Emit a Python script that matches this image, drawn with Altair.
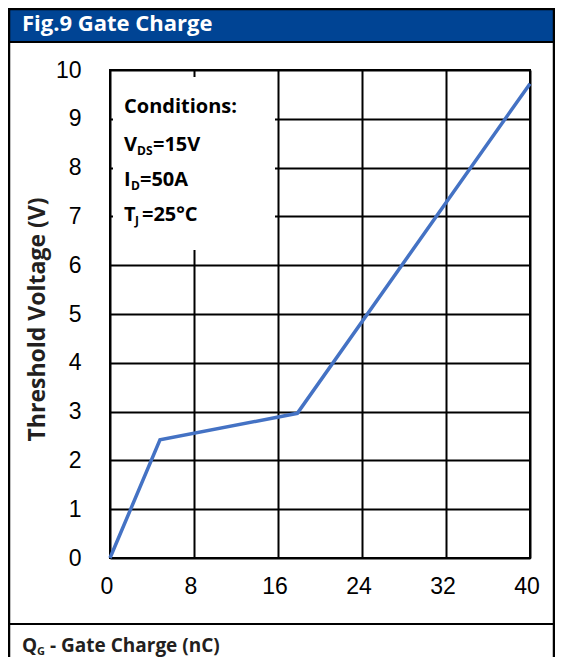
import altair as alt
import pandas as pd

# ---- data ----
qg = [0, 4.76, 17.84, 40]          # gate charge (nC)
vth = [0, 2.42, 2.965, 9.72]       # voltage (V)
x_ticks = [0, 8, 16, 24, 32, 40]
y_ticks = [0, 1, 2, 3, 4, 5, 6, 7, 8, 9, 10]

fig_title = "Fig.9 Gate Charge"
y_title = "Threshold Voltage (V)"
x_title_main = "Q"
x_title_sub = "G"
x_title_rest = "- Gate Charge (nC)"
cond_head = "Conditions:"
cond_lines = [("V", "DS", "=15V"), ("I", "D", "=50A"), ("T", "J", "=25°C")]

df = pd.DataFrame({"qg": qg, "vth": vth})
one = alt.Data(values=[{"k": 0}])

BLUE = "#004494"
DARK = "#231f20"
FONT = "Open Sans"


def txt(text, x, y, size, color="black", weight="bold"):
    return alt.Chart(one).mark_text(
        text=text, fontSize=size, font=FONT, fontWeight=weight, color=color,
        align="left", baseline="alphabetic"
    ).encode(x=alt.value(x), y=alt.value(y))


def rect(x, x2, y, y2, **kw):
    return alt.Chart(one).mark_rect(**kw).encode(
        x=alt.value(x), x2=alt.value(x2), y=alt.value(y), y2=alt.value(y2))


def hrule(x, x2, y, width=2):
    return alt.Chart(one).mark_rule(color="black", strokeWidth=width).encode(
        x=alt.value(x), x2=alt.value(x2), y=alt.value(y))


header = rect(-102, 445, -62, -28, color=BLUE)
header_line = hrule(-102, 445, -28, 2)
frame = rect(-101, 444, -61, 620, filled=False, stroke="black", strokeWidth=2.5)
divider = hrule(-102, 445, 554, 2)
white_box = rect(3, 165, 7, 180, color="white")

line = alt.Chart(df).mark_line(color="#4472C4", strokeWidth=3.5).encode(
    x=alt.X("qg:Q", scale=alt.Scale(domain=[0, 40], nice=False),
            axis=alt.Axis(values=x_ticks, title=None, grid=True, gridColor="black",
                          gridWidth=2, gridOpacity=1, ticks=False, domain=False,
                          labelFont="Liberation Sans", labelFontSize=23,
                          labelColor="black", labelPadding=17, labelOffset=-3.5,
                          labelFlush=False, labelOverlap=False, labelBound=False)),
    y=alt.Y("vth:Q", scale=alt.Scale(domain=[0, 10], nice=False),
            axis=alt.Axis(values=y_ticks, title=y_title, grid=True, gridColor="black",
                          gridWidth=2, gridOpacity=1, ticks=False, domain=False,
                          labelFont="Liberation Sans", labelFontSize=23,
                          labelColor="black", labelPadding=29,
                          labelOverlap=False, labelFlush=False, labelBound=False,
                          titleFont=FONT, titleFontWeight="bold", titleFontSize=23,
                          titleColor=DARK, titleX=-66, titleY=249, titleAngle=270,
                          titleAlign="center", titleBaseline="alphabetic")),
)

texts = [
    txt(fig_title, -88, -39, 22, color="white"),
    txt(cond_head, 14, 43, 20),
    txt(x_title_main, -88, 582, 19, color=DARK),
    txt(x_title_sub, -73, 585, 11, color=DARK),
    txt(x_title_rest, -60, 582, 19, color=DARK),
]

sub_x = [(14, 27, 43), (14, 21, 30), (14, 25, 32)]
base_y = [81, 116, 151]
for (main, sub, rest), (x0, xs, xr), yb in zip(cond_lines, sub_x, base_y):
    texts.append(txt(main, x0, yb, 20))
    texts.append(txt(sub, xs, yb + 4, 12))
    texts.append(txt(rest, xr, yb, 20))

chart = alt.layer(header, header_line, frame, divider, white_box, line, *texts).properties(
    width=420, height=488,
    padding={"left": 102, "top": 62, "right": 25, "bottom": 99},
    autosize=alt.AutoSizeParams(type="none"),
    background="white",
).configure_view(stroke="black", strokeWidth=2)

chart.save("out.html", embed_options={"renderer": "svg", "actions": False})
